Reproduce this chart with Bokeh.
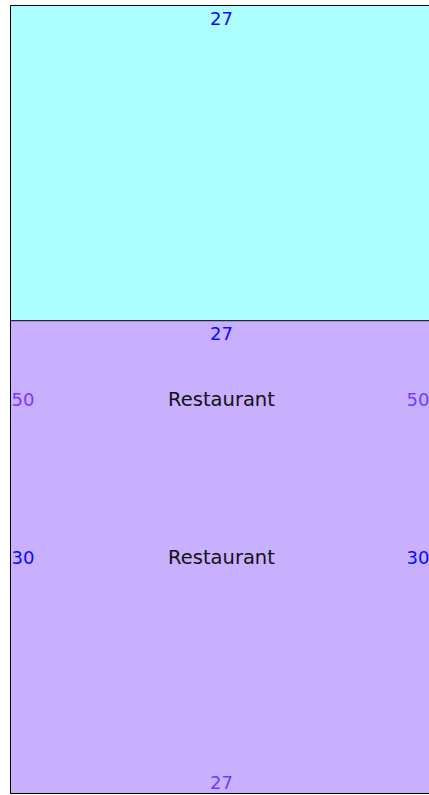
from bokeh.plotting import figure
from bokeh.models import ColumnDataSource, Range1d
from bokeh.core.properties import value
from bokeh.embed import file_html
from bokeh.resources import INLINE

# Rooms (feet): width along x, length along y, drawn from y = 0 upward
room_names = ["Restaurant", "Restaurant"]
room_widths = [27, 27]
room_lengths = [50, 30]
room_fills = ["#aeffff", "#e262ff"]
room_alphas = [1.0, 0.5]

FONT = value("DejaVu Sans")
FS = "18px"
NAME_FS = "19.5px"
BLUE = "#0a0aff"

p = figure(width=429, height=795, output_backend="svg", toolbar_location=None,
           x_range=Range1d(-0.64, 26.81), y_range=Range1d(-0.127, 50.317),
           min_border=0)
p.axis.visible = False
p.grid.visible = False
p.outline_line_color = None
p.background_fill_color = "white"
p.border_fill_color = "white"

for i, (name, w, l) in enumerate(zip(room_names, room_widths, room_lengths)):
    src = ColumnDataSource(dict(x=[w / 2], y=[l / 2], w=[w], h=[l]))
    p.rect(x="x", y="y", width="w", height="h", source=src,
           fill_color=room_fills[i], fill_alpha=room_alphas[i],
           line_color="black", line_width=1)
    # width labels (top and bottom)
    p.text(x=[w / 2], y=[l], text=[str(w)], text_align="center", text_baseline="middle",
           y_offset=13, text_color=BLUE, text_font=FONT, text_font_size=FS)
    if i == 0:
        p.text(x=[w / 2], y=[0], text=[str(w)], text_align="center", text_baseline="middle",
               y_offset=-11, text_color=BLUE, text_font=FONT, text_font_size=FS)
    # length labels (left and right)
    p.text(x=[0], y=[l / 2], text=[str(l)], text_align="left", text_baseline="middle",
           x_offset=1, text_color=BLUE, text_font=FONT, text_font_size=FS)
    p.text(x=[w], y=[l / 2], text=[str(l)], text_align="right", text_baseline="middle",
           x_offset=-3, text_color=BLUE, text_font=FONT, text_font_size=FS)

# room names on top of everything
for name, w, l in zip(room_names, room_widths, room_lengths):
    p.text(x=[w / 2], y=[l / 2], text=[name], text_align="center", text_baseline="middle",
           text_color="#111111", text_font=FONT, text_font_size=NAME_FS)

open("out.html", "w").write(file_html(p, INLINE))
